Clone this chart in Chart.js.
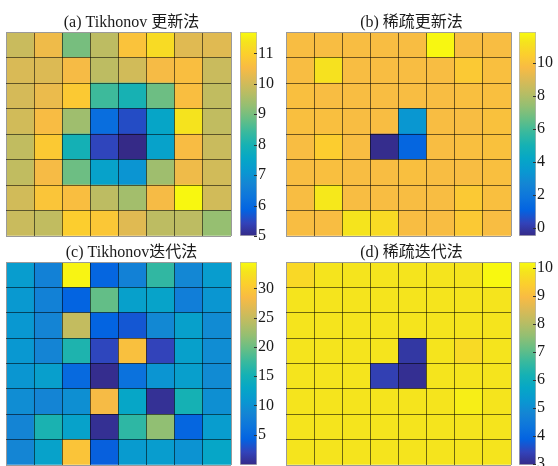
<!DOCTYPE html>
<html>
<head>
<meta charset="utf-8">
<script src="https://cdn.jsdelivr.net/npm/chart.js@4.4.1/dist/chart.umd.min.js"></script>
<style>
  body { margin: 0; background: #fff; width: 558px; height: 466px; position: relative; overflow: hidden; }
  canvas { position: absolute; }
</style>
</head>
<body>
<canvas id="mapA" width="252" height="224" style="left:5px;top:13px"></canvas>
<canvas id="barA" width="45" height="224" style="left:240px;top:22px"></canvas>
<canvas id="mapB" width="252" height="224" style="left:285px;top:13px"></canvas>
<canvas id="barB" width="45" height="224" style="left:519px;top:22px"></canvas>
<canvas id="mapC" width="252" height="223" style="left:5px;top:243px"></canvas>
<canvas id="barC" width="45" height="214" style="left:240px;top:252px"></canvas>
<canvas id="mapD" width="252" height="223" style="left:285px;top:243px"></canvas>
<canvas id="barD" width="45" height="214" style="left:519px;top:252px"></canvas>
<script>
// columns of each 8x8 grid
const cols = ["1", "2", "3", "4", "5", "6", "7", "8"];

// cell values, rows listed top to bottom
const valuesA = [
  [9.9, 10.4, 9.0, 9.75, 10.7, 11.2, 10.2, 10.2],
  [10.1, 10.15, 10.5, 9.75, 10.0, 10.5, 10.6, 9.9],
  [10.05, 10.35, 10.85, 8.45, 8.0, 8.9, 10.6, 9.8],
  [10.0, 10.55, 9.4, 6.1, 5.55, 7.5, 11.35, 9.8],
  [9.8, 10.85, 7.95, 5.45, 5.0, 7.4, 10.55, 9.9],
  [9.8, 10.5, 8.9, 7.4, 7.05, 9.4, 10.4, 10.0],
  [10.0, 10.75, 10.6, 9.75, 9.45, 10.5, 11.65, 10.0],
  [9.9, 9.8, 10.95, 10.8, 10.2, 9.75, 9.75, 9.3]
];
const valuesB = [
  [9.8, 9.8, 9.8, 9.8, 9.8, 11.8, 9.8, 9.8],
  [9.8, 11.2, 9.8, 9.8, 9.8, 9.8, 10.3, 9.9],
  [9.9, 9.8, 9.8, 9.8, 9.8, 9.8, 9.9, 9.9],
  [9.9, 9.9, 9.8, 9.8, 3.4, 9.8, 9.8, 10.0],
  [9.8, 10.5, 9.8, -0.4, 1.2, 9.8, 9.9, 10.0],
  [9.8, 9.9, 9.8, 9.8, 9.9, 9.8, 9.8, 9.9],
  [9.8, 11.4, 9.8, 9.8, 9.8, 9.8, 10.3, 9.9],
  [9.8, 9.8, 11.3, 11.0, 9.8, 9.8, 10.3, 9.8]
];
const valuesC = [
  [11.5, 8.0, 34.0, 4.6, 8.0, 17.0, 8.8, 11.5],
  [11.0, 8.0, 4.3, 19.5, 12.0, 12.5, 7.6, 10.6],
  [10.8, 8.5, 24.8, 4.3, 3.4, 9.0, 12.0, 9.3],
  [10.8, 8.5, 15.8, 2.2, 29.0, 2.0, 12.0, 9.5],
  [10.6, 11.8, 5.0, 0.1, 6.0, 10.4, 11.8, 9.3],
  [9.5, 8.5, 9.8, 28.3, 12.8, 0.4, 15.2, 9.8],
  [8.5, 15.5, 12.3, 0.3, 16.8, 21.8, 4.6, 11.5],
  [8.6, 12.3, 29.5, 4.0, 11.3, 11.5, 10.2, 12.8]
];
const valuesD = [
  [9.6, 9.85, 9.85, 9.85, 9.85, 9.85, 9.85, 10.15],
  [9.85, 9.85, 9.85, 9.85, 9.85, 9.85, 9.85, 9.85],
  [9.85, 9.85, 9.85, 9.85, 9.85, 9.85, 9.85, 9.85],
  [9.85, 9.85, 9.85, 9.85, 3.2, 9.85, 9.65, 9.85],
  [9.85, 9.85, 9.85, 3.35, 3.05, 9.85, 9.85, 9.85],
  [9.85, 9.85, 9.85, 9.85, 9.85, 9.85, 10.0, 9.85],
  [9.85, 9.85, 9.85, 9.85, 9.85, 9.85, 9.85, 9.85],
  [9.85, 9.85, 9.85, 9.85, 9.85, 9.85, 9.85, 9.85]
];

// colour limits and colorbar ticks
const rangeA = [5.0, 11.7];
const rangeB = [-0.5, 11.9];
const rangeC = [-0.2, 34.5];
const rangeD = [2.95, 10.2];
const ticksA = [5, 6, 7, 8, 9, 10, 11];
const ticksB = [0, 2, 4, 6, 8, 10];
const ticksC = [5, 10, 15, 20, 25, 30];
const ticksD = [3, 4, 5, 6, 7, 8, 9, 10];

const titles = ["(a) Tikhonov 更新法", "(b) 稀疏更新法", "(c) Tikhonov迭代法", "(d) 稀疏迭代法"];

// parula colormap (subset of the 64 entries)
const parula = [
  [0, 53, 42, 135], [0.0635, 50, 67, 186], [0.127, 3, 99, 225], [0.19, 13, 117, 220],
  [0.254, 20, 133, 212], [0.317, 9, 152, 209], [0.381, 6, 167, 198], [0.444, 21, 177, 180],
  [0.508, 56, 185, 158], [0.571, 101, 190, 134], [0.635, 146, 191, 115], [0.698, 183, 189, 100],
  [0.762, 217, 186, 86], [0.825, 248, 187, 68], [0.889, 252, 206, 46], [0.952, 245, 228, 29],
  [1, 249, 251, 14]
];

function colorAt(t) {
  t = Math.max(0, Math.min(1, t));
  for (let i = 1; i < parula.length; i++) {
    if (t <= parula[i][0]) {
      const a = parula[i - 1], b = parula[i];
      const f = (t - a[0]) / (b[0] - a[0]);
      const c = [1, 2, 3].map(k => Math.round(a[k] + (b[k] - a[k]) * f));
      return "rgb(" + c.join(",") + ")";
    }
  }
  return "rgb(249,251,14)";
}

const serif = "'Liberation Serif', 'Times New Roman', 'Noto Sans CJK SC', serif";
const lineColor = "rgba(0,0,0,0.55)";
const edgeColor = "#9a9a9a";

function heatmap(id, title, values, range) {
  // stacked bars: bottom row first
  const datasets = values.slice().reverse().map(row => ({
    data: row.map(() => 1),
    backgroundColor: row.map(v => colorAt((v - range[0]) / (range[1] - range[0]))),
    borderWidth: 0,
    barPercentage: 1,
    categoryPercentage: 1
  }));

  new Chart(document.getElementById(id), {
    type: "bar",
    data: { labels: cols, datasets: datasets },
    options: {
      responsive: false,
      animation: false,
      devicePixelRatio: 1,
      layout: { padding: { left: 1, right: 0, top: 0, bottom: 1 } },
      plugins: {
        legend: { display: false },
        tooltip: { enabled: false },
        title: {
          display: true,
          text: title,
          color: "#1a1a1a",
          font: { family: serif, size: 16, weight: "normal" },
          padding: { top: 0, bottom: 0 }
        }
      },
      scales: {
        x: {
          stacked: true,
          z: 1,
          ticks: { display: false },
          border: { display: false },
          grid: {
            z: 1,
            offset: true,
            drawTicks: false,
            color: c => (c.type !== "tick" || c.index === 0) ? edgeColor : lineColor
          },
          afterFit: s => { s.height = 0; }
        },
        y: {
          stacked: true,
          min: 0,
          max: 8,
          z: 1,
          ticks: { display: false, stepSize: 1 },
          border: { display: false },
          grid: {
            z: 1,
            drawTicks: false,
            color: c => (c.tick && (c.tick.value === 0 || c.tick.value === 8)) ? edgeColor : lineColor
          },
          afterFit: s => { s.width = 0; }
        },
        pad: {
          type: "linear",
          position: "right",
          ticks: { display: false },
          grid: { display: false },
          border: { display: false },
          afterFit: s => { s.width = 26; }
        }
      }
    }
  });
}

const innerTicks = {
  id: "innerTicks",
  afterDraw(chart) {
    const y = chart.scales.y;
    const area = chart.chartArea;
    const ctx = chart.ctx;
    ctx.save();
    ctx.strokeStyle = "#333";
    ctx.lineWidth = 1;
    y.ticks.forEach(t => {
      const py = Math.round(y.getPixelForValue(t.value)) + 0.5;
      ctx.beginPath();
      ctx.moveTo(area.right - 3, py);
      ctx.lineTo(area.right, py);
      ctx.stroke();
    });
    ctx.restore();
  }
};

function colorbar(id, range, ticks, bottomPad) {
  new Chart(document.getElementById(id), {
    type: "bar",
    data: {
      labels: [""],
      datasets: [{
        data: [[range[0], range[1]]],
        backgroundColor: ctx => {
          const chart = ctx.chart;
          const y = chart.scales.y;
          if (!chart.chartArea || !y) return "#888";
          const g = chart.ctx.createLinearGradient(0, y.getPixelForValue(range[0]), 0, y.getPixelForValue(range[1]));
          parula.forEach(p => g.addColorStop(p[0], "rgb(" + p[1] + "," + p[2] + "," + p[3] + ")"));
          return g;
        },
        borderColor: "#b5b5b5",
        borderWidth: 1,
        borderSkipped: false,
        barPercentage: 1,
        categoryPercentage: 1
      }]
    },
    options: {
      responsive: false,
      animation: false,
      devicePixelRatio: 1,
      layout: { padding: { left: 0, right: 0, top: 10, bottom: bottomPad } },
      plugins: { legend: { display: false }, tooltip: { enabled: false } },
      scales: {
        x: { display: false },
        y: {
          position: "right",
          min: range[0],
          max: range[1],
          afterBuildTicks: s => { s.ticks = ticks.map(v => ({ value: v })); },
          ticks: { color: "#1a1a1a", padding: 1, font: { family: serif, size: 16 } },
          grid: { display: false, drawTicks: false },
          border: { display: false },
          afterFit: s => { s.width = 28; s.paddingTop = 0; s.paddingBottom = 0; }
        }
      }
    },
    plugins: [innerTicks]
  });
}

heatmap("mapA", titles[0], valuesA, rangeA);
heatmap("mapB", titles[1], valuesB, rangeB);
heatmap("mapC", titles[2], valuesC, rangeC);
heatmap("mapD", titles[3], valuesD, rangeD);
colorbar("barA", rangeA, ticksA, 10);
colorbar("barB", rangeB, ticksB, 10);
colorbar("barC", rangeC, ticksC, 1);
colorbar("barD", rangeD, ticksD, 1);
</script>
</body>
</html>
